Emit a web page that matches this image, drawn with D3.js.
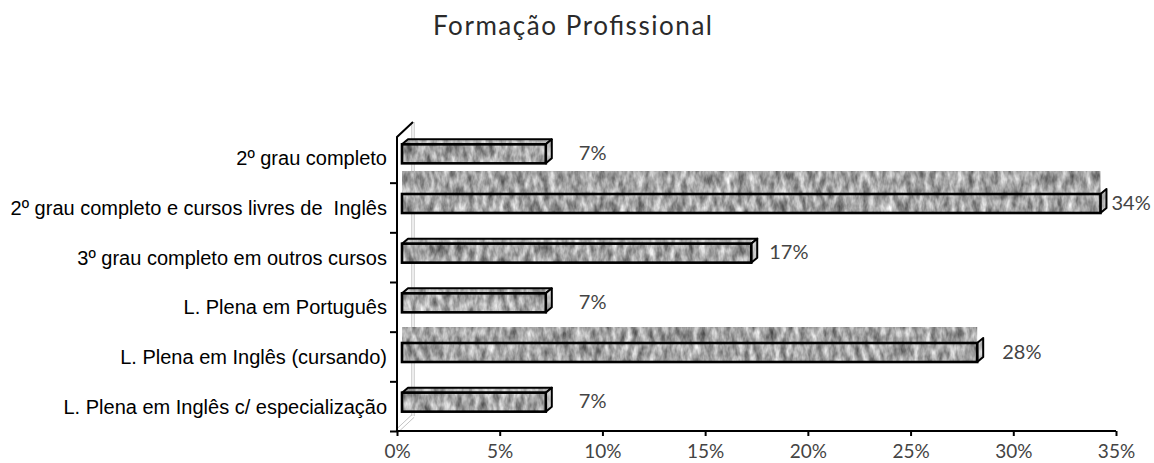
<!DOCTYPE html>
<html>
<head>
<meta charset="utf-8">
<script src="https://cdn.jsdelivr.net/npm/d3@7"></script>
<style>
  body { margin: 0; background: #fff; }
  svg text { white-space: pre; }
</style>
</head>
<body>
<svg id="chart" width="1154" height="463"></svg>
<script>
// ---- data ----
const title = "Formação Profissional";
const categories = [
  "2º grau completo",
  "2º grau completo e cursos livres de  Inglês",
  "3º grau completo em outros cursos",
  "L. Plena em Português",
  "L. Plena em Inglês (cursando)",
  "L. Plena em Inglês c/ especialização"
];
const values = [7, 34, 17, 7, 28, 7];
const xTicks = [0, 5, 10, 15, 20, 25, 30, 35];

// ---- layout ----
const W = 1154, H = 463;
const plot = { left: 397, right: 1116, top: 133, bottom: 431 };
const wall = { dx: 16, dy: -15 };      // depth of the 3D back wall
const bar = { shift: 5, dx: 6, dy: -5, h: 19, lift: 4 };
// gap between bar end and its value label
const labelGap = [33, 11, 18, 33, 25, 33];
// height of the stretched texture band drawn over the top face (0 = normal top face)
const topBand = [0, 23, 0, 0, 16, 0];

const svg = d3.select("#chart");

// granite-like grey texture
const defs = svg.append("defs");
const f = defs.append("filter")
  .attr("id", "granite")
  .attr("filterUnits", "userSpaceOnUse")
  .attr("x", 0).attr("y", 0).attr("width", W).attr("height", H)
  .attr("color-interpolation-filters", "sRGB");
f.append("feTurbulence")
  .attr("type", "fractalNoise")
  .attr("baseFrequency", "0.16 0.07")
  .attr("numOctaves", 3)
  .attr("seed", 7)
  .attr("result", "noise");
f.append("feColorMatrix")
  .attr("in", "noise")
  .attr("type", "matrix")
  .attr("values", "0.85 0 0 0 0.22  0.85 0 0 0 0.22  0.85 0 0 0 0.22  0 0 0 0 1")
  .attr("result", "grey");
f.append("feComposite")
  .attr("in", "grey").attr("in2", "SourceGraphic").attr("operator", "in");

const x = d3.scaleLinear().domain([0, 35]).range([plot.left, plot.right]);
const y = d3.scaleBand().domain(categories).range([plot.top, plot.bottom]);
const yIdx = d3.scaleLinear().domain([0, categories.length]).range([plot.top, plot.bottom]);

// title
svg.append("text")
  .attr("x", 572.5).attr("y", 35)
  .attr("text-anchor", "middle")
  .attr("font-family", "Lato, 'Open Sans', sans-serif")
  .attr("font-size", 26)
  .attr("fill", "#2a2a2a")
  .attr("textLength", 279)
  .attr("lengthAdjust", "spacing")
  .text(title);

// back wall and floor edges
const wallG = svg.append("g").attr("stroke", "#c4c4c4").attr("fill", "none").attr("stroke-width", 1);
[-1.2, 1.2].forEach(o => {
  wallG.append("line")
    .attr("x1", plot.left + wall.dx + o).attr("x2", plot.left + wall.dx + o)
    .attr("y1", plot.top + 4 + wall.dy).attr("y2", plot.bottom + wall.dy);
  wallG.append("line")
    .attr("x1", plot.left + o).attr("y1", plot.bottom + o)
    .attr("x2", plot.left + wall.dx + o).attr("y2", plot.bottom + wall.dy + o);
});

// bars
const bars = svg.append("g");
categories.forEach((c, i) => {
  const v = values[i];
  const x0 = x(0) + bar.shift, x1 = x(v) + bar.shift;
  const yc = y(c) + y.bandwidth() / 2;
  const yt = yc - bar.lift - bar.h / 2, yb = yt + bar.h;
  const g = bars.append("g");

  const top = [[x0, yt], [x1, yt], [x1 + bar.dx, yt + bar.dy], [x0 + bar.dx, yt + bar.dy]];
  const side = [[x1, yt], [x1 + bar.dx, yt + bar.dy], [x1 + bar.dx, yb + bar.dy], [x1, yb]];
  const poly = p => "M" + p.map(q => q.join(",")).join("L") + "Z";

  if (topBand[i] > 0) {
    g.append("rect")
      .attr("x", x0).attr("y", yt - topBand[i])
      .attr("width", x1 - x0).attr("height", topBand[i])
      .attr("fill", "#000").attr("filter", "url(#granite)");
  } else {
    g.append("path").attr("d", poly(top)).attr("fill", "#000").attr("filter", "url(#granite)");
    g.append("path").attr("d", poly(top)).attr("fill", "#fff").attr("fill-opacity", 0.2)
      .attr("stroke", "#000").attr("stroke-width", 2).attr("stroke-linejoin", "round");
  }
  // side face
  g.append("path").attr("d", poly(side)).attr("fill", "#000").attr("filter", "url(#granite)");
  g.append("path").attr("d", poly(side)).attr("fill", "#fff").attr("fill-opacity", 0.3)
    .attr("stroke", "#000").attr("stroke-width", 2).attr("stroke-linejoin", "round");
  // front face
  g.append("rect").attr("x", x0).attr("y", yt).attr("width", x1 - x0).attr("height", bar.h)
    .attr("fill", "#000").attr("filter", "url(#granite)");
  g.append("rect").attr("x", x0).attr("y", yt).attr("width", x1 - x0).attr("height", bar.h)
    .attr("fill", "none").attr("stroke", "#000").attr("stroke-width", 2.6);

  // value label
  svg.append("text")
    .attr("x", x1 + labelGap[i]).attr("y", yc - 5 + 7)
    .attr("font-family", "Lato, 'Open Sans', sans-serif")
    .attr("font-size", 20)
    .attr("fill", "#444")
    .text(v + "%");
});

// x axis
const xAxis = svg.append("g")
  .attr("transform", `translate(0,${plot.bottom})`)
  .call(d3.axisBottom(x).tickValues(xTicks).tickFormat(d => d + "%").tickSize(5).tickPadding(9));
xAxis.select(".domain").attr("stroke", "#000").attr("stroke-width", 2).attr("d", `M${plot.left},0H${plot.right}`);
xAxis.selectAll(".tick line").attr("stroke", "#000").attr("stroke-width", 2);
xAxis.selectAll(".tick text")
  .attr("font-family", "Lato, 'Open Sans', sans-serif")
  .attr("font-size", 19)
  .attr("fill", "#444");

// y axis: boundary ticks between categories
const yTicks = svg.append("g")
  .attr("transform", `translate(${plot.left},0)`)
  .call(d3.axisLeft(yIdx).tickValues(d3.range(1, categories.length + 1)).tickFormat("").tickSize(7));
yTicks.select(".domain").remove();
yTicks.selectAll(".tick line").attr("stroke", "#000").attr("stroke-width", 2);

// y axis line with the 3D top edge
svg.append("path")
  .attr("d", `M${plot.left + wall.dx},${plot.top + 4 + wall.dy}L${plot.left},${plot.top + 4}V${plot.bottom}`)
  .attr("fill", "none").attr("stroke", "#000").attr("stroke-width", 2);

// category labels
const yLabels = svg.append("g")
  .attr("transform", `translate(${plot.left},1)`)
  .call(d3.axisLeft(y).tickSize(0).tickPadding(10));
yLabels.select(".domain").remove();
yLabels.selectAll(".tick text")
  .attr("font-family", "'Liberation Sans', Arial, sans-serif")
  .attr("font-size", 20)
  .attr("fill", "#000");
</script>
</body>
</html>
